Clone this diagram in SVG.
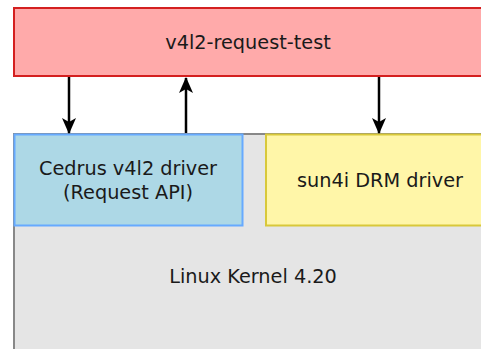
<svg xmlns="http://www.w3.org/2000/svg" width="481" height="349" viewBox="0 0 481 349">
<defs>
<style>
text{font-family:"DejaVu Sans",sans-serif;font-size:19.3px;fill:#1a1a1a;text-anchor:middle}
.ln{stroke:#000;stroke-width:2.5;fill:none}
</style>
<marker id="ah" viewBox="0 0 16 14" refX="15" refY="7" markerWidth="16" markerHeight="14" markerUnits="userSpaceOnUse" orient="auto">
<path d="M0,0 L16,7 L0,14 L4,7 Z" fill="#000"/>
</marker>
</defs>
<rect width="481" height="349" fill="#fff"/>
<g id="kernel">
<rect x="14" y="134" width="480" height="230" fill="#e5e5e5" stroke="#888" stroke-width="2"/>
<text x="253" y="283">Linux Kernel 4.20</text>
</g>
<g id="app">
<rect x="14" y="8" width="480" height="68" fill="#ffaaaa" stroke="#d42020" stroke-width="2"/>
<text x="248" y="49">v4l2-request-test</text>
</g>
<g id="cedrus">
<rect x="14.5" y="134.5" width="228" height="91" fill="#add8e6" stroke="#66aaff" stroke-width="2"/>
<text x="128" y="175">Cedrus v4l2 driver</text>
<text x="128" y="199">(Request API)</text>
</g>
<g id="sun4i">
<rect x="266" y="134.5" width="230" height="91" fill="#fff6a8" stroke="#d8c83a" stroke-width="2"/>
<text x="380" y="187">sun4i DRM driver</text>
</g>
<g id="connectors">
<line class="ln" x1="69" y1="77" x2="69" y2="133" marker-end="url(#ah)"/>
<line class="ln" x1="186" y1="133" x2="186" y2="78" marker-end="url(#ah)"/>
<line class="ln" x1="379" y1="77" x2="379" y2="133" marker-end="url(#ah)"/>
</g>
</svg>
